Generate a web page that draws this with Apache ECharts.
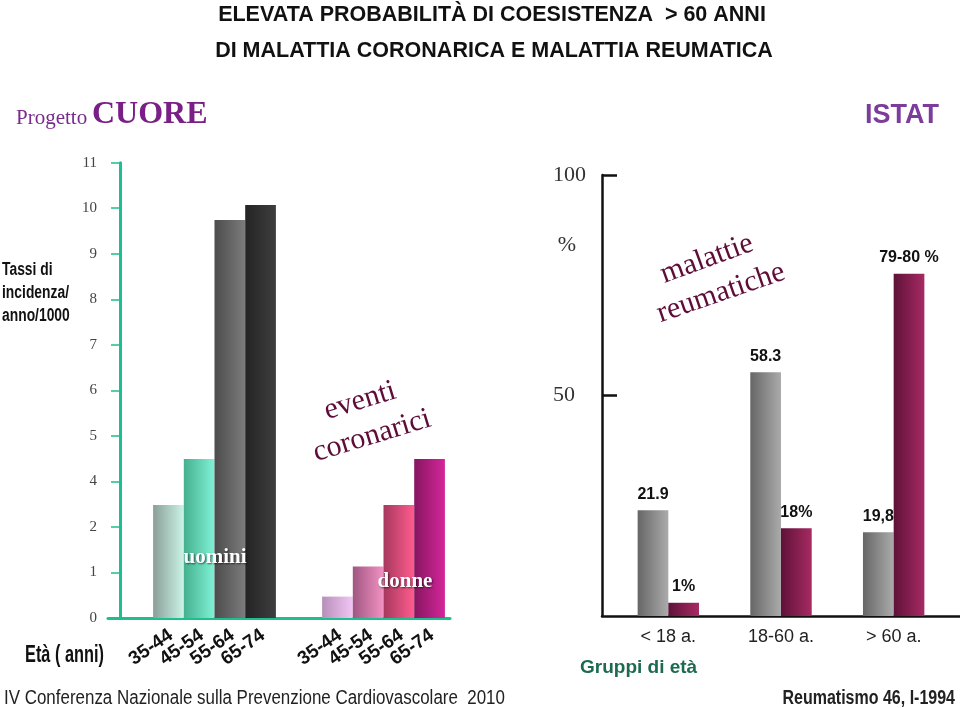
<!DOCTYPE html>
<html><head><meta charset="utf-8">
<script src="https://cdn.jsdelivr.net/npm/echarts@6/dist/echarts.min.js"></script>
<style>html,body{margin:0;padding:0;background:#fff}#c{width:960px;height:708px}</style>
</head><body><div id="c"></div>
<script>
// ---- data ----
const tickLabels = ['0','1','2','4','5','6','7','8','9','10','11']; // left axis labels (as printed, evenly spaced)
const groups = ['uomini','donne'];
const ageBands = ['35-44','45-54','55-64','65-74'];
// bar heights in left-axis tick units (position on the printed scale)
const uomini = [2.48, 3.49, 8.74, 9.07];
const donne  = [0.47, 1.13, 2.48, 3.49];

const rightCats = ['< 18 a.','18-60 a.','> 60 a.'];
const greyVals = [24.0, 55.3, 19.0];
const magVals  = [3.0, 19.9, 77.6];
const greyLabels = ['21.9','58.3','19,8'];
const magLabels  = ['1%','18%','79-80 %'];

// ---- styles ----
const uCols = [['#8a9f98','#cbf3e6'],['#45b08f','#80f2d4'],['#4c4c4c','#7c7c7c'],['#242424','#3e3e3e']];
const dCols = [['#b68fb8','#f2c6f6'],['#a05682','#f292c2'],['#a6385e','#ff5c8e'],['#861660','#d4269a']];
const grad = c => ({type:'linear',x:0,y:0,x2:1,y2:0,colorStops:[{offset:0,color:c[0]},{offset:1,color:c[1]}]});
const GREEN = '#1dbf8e';
const SANS = '"Liberation Sans",Arial,sans-serif';
const SERIF = '"Liberation Serif","DejaVu Serif",serif';

const chart = echarts.init(document.getElementById('c'));

const leftSeries = ageBands.map((name,i)=>({
  type:'bar', name, xAxisIndex:0, yAxisIndex:0, barWidth:30.7, barGap:0,
  data:[{value:uomini[i], itemStyle:{color:grad(uCols[i])}},{value:donne[i], itemStyle:{color:grad(dCols[i])}}],
  label:{show:true, position:'bottom', distance:17, offset:[3,0], formatter:'{a}', rotate:35, align:'right', verticalAlign:'middle',
    fontFamily:SANS, fontWeight:'bold', fontSize:19, color:'#111'},
  animation:false
}));

const txt = (text,x,y,o) => ({type:'text', x, y, rotation:(o.rot||0)*Math.PI/180, scaleX:o.sx||1, z:100,
  style:Object.assign({text, align:o.align||'left', verticalAlign:'middle', fill:o.fill||'#111',
    font:o.font}, o.extra||{})});

chart.setOption({
  animation:false,
  backgroundColor:'#fff',
  grid:[
    {left:130, top:162.7, width:338, height:455.3},
    {left:108, top:162.7, width:342, height:455.3},
    {left:612, top:175, width:338, height:441},
    {left:602, top:175, width:358, height:441}
  ],
  xAxis:[
    {gridIndex:0, type:'category', data:groups, axisLine:{show:false}, axisTick:{show:false}, axisLabel:{show:false}},
    {gridIndex:1, type:'category', data:[''], axisLine:{lineStyle:{color:GREEN,width:3}}, axisTick:{show:false}, axisLabel:{show:false}},
    {gridIndex:2, type:'category', data:rightCats, axisLine:{show:false}, axisTick:{show:false},
      axisLabel:{margin:12, fontFamily:SANS, fontSize:18, color:'#222'}},
    {gridIndex:3, type:'category', data:[''], axisLine:{lineStyle:{color:'#111',width:2.5}}, axisTick:{show:false}, axisLabel:{show:false}}
  ],
  yAxis:[
    {gridIndex:0, type:'value', min:0, max:10, interval:1, offset:10,
      axisLine:{show:true, lineStyle:{color:GREEN,width:3}},
      axisTick:{show:true, length:9, lineStyle:{color:GREEN,width:1.5}},
      splitLine:{show:false},
      axisLabel:{margin:23, formatter:v=>tickLabels[v], fontFamily:SERIF, fontSize:15, color:'#444'}},
    {gridIndex:1, type:'value', show:false, min:0, max:10},
    {gridIndex:2, type:'value', min:0, max:100, interval:50, offset:10,
      axisLine:{show:true, lineStyle:{color:'#111',width:2.5}},
      axisTick:{show:true, inside:true, length:15, lineStyle:{color:'#111',width:2.5}},
      splitLine:{show:false},
      axisLabel:{showMinLabel:false, align:'left', margin:49, fontFamily:SERIF, fontSize:22, color:'#333'}},
    {gridIndex:3, type:'value', show:false, min:0, max:100}
  ],
  series: leftSeries.concat([
    {type:'bar', name:'grigio', xAxisIndex:2, yAxisIndex:2, barWidth:30.7, barGap:0,
      itemStyle:{color:grad(['#666666','#ababab'])}, data:greyVals,
      label:{show:true, position:'top', distance:8, formatter:p=>greyLabels[p.dataIndex],
        fontFamily:SANS, fontWeight:'bold', fontSize:16, color:'#111'}},
    {type:'bar', name:'magenta', xAxisIndex:2, yAxisIndex:2, barWidth:30.7, barGap:0,
      itemStyle:{color:grad(['#5e1238','#a72a63'])}, data:magVals,
      label:{show:true, position:'top', distance:8, formatter:p=>magLabels[p.dataIndex],
        fontFamily:SANS, fontWeight:'bold', fontSize:16, color:'#111'}}
  ]),
  graphic:[
    txt('ELEVATA PROBABILITÀ DI COESISTENZA  > 60 ANNI',492,15,{align:'center',font:'bold 21.5px '+SANS}),
    txt('DI MALATTIA CORONARICA E MALATTIA REUMATICA',494,51,{align:'center',font:'bold 21.5px '+SANS}),
    txt('Progetto',16,118,{font:'21px '+SERIF, fill:'#7a2a8c'}),
    txt('CUORE',92,115,{font:'bold 32px '+SERIF, fill:'#7a1f86'}),
    txt('ISTAT',939,116,{align:'right', font:'bold 27px '+SANS, fill:'#7b3c9c'}),
    txt('Tassi di',2,270,{sx:0.77, font:'bold 18px '+SANS}),
    txt('incidenza/',2,293,{sx:0.77, font:'bold 18px '+SANS}),
    txt('anno/1000',2,316,{sx:0.77, font:'bold 18px '+SANS}),
    txt('Età ( anni)',25,655,{sx:0.68, font:'bold 24px '+SANS}),
    txt('eventi',360,401,{align:'center', rot:17, font:'30px '+SERIF, fill:'#5e0c38'}),
    txt('coronarici',372,436,{align:'center', rot:17, font:'30px '+SERIF, fill:'#5e0c38'}),
    txt('uomini',215,558,{align:'center', font:'bold 21px '+SERIF, fill:'#ffffff',
      extra:{textShadowColor:'rgba(0,0,0,0.6)', textShadowBlur:2, textShadowOffsetX:1, textShadowOffsetY:1}}),
    txt('donne',405,582,{align:'center', font:'bold 21px '+SERIF, fill:'#ffffff',
      extra:{textShadowColor:'rgba(0,0,0,0.6)', textShadowBlur:2, textShadowOffsetX:1, textShadowOffsetY:1}}),
    txt('malattie',707,259,{align:'center', rot:20, font:'30px '+SERIF, fill:'#5e0c38'}),
    txt('reumatiche',721,293,{align:'center', rot:19, font:'30px '+SERIF, fill:'#5e0c38'}),
    txt('%',567,245,{align:'center', font:'22px '+SERIF, fill:'#333'}),
    txt('Gruppi di età',580,668,{font:'bold 19px '+SANS, fill:'#1d6b4f'}),
    txt('IV Conferenza Nazionale sulla Prevenzione Cardiovascolare  2010',4,698,{sx:0.847, font:'20px '+SANS, fill:'#222'}),
    txt('Reumatismo 46, I-1994',955,698,{align:'right', sx:0.8, font:'bold 20px '+SANS, fill:'#222'})
  ]
});
</script></body></html>
